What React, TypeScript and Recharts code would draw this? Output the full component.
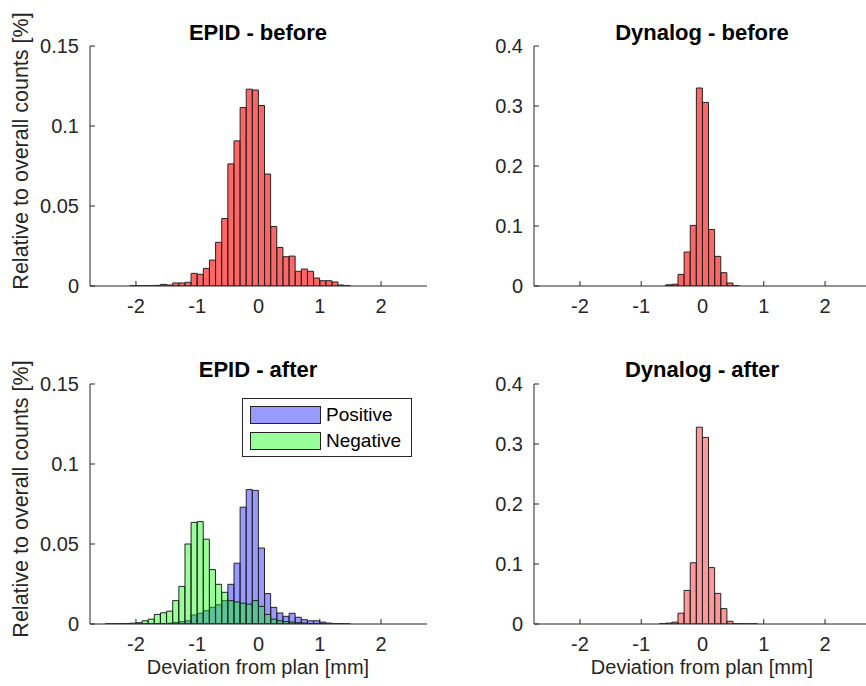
import React from "react";
import { BarChart, Bar, XAxis, YAxis } from "recharts";

// histogram bin centres [mm], bin width 0.1
const binCenters = [
  -2.45, -2.35, -2.25, -2.15, -2.05, -1.95, -1.85, -1.75, -1.65, -1.55,
  -1.45, -1.35, -1.25, -1.15, -1.05, -0.95, -0.85, -0.75, -0.65, -0.55,
  -0.45, -0.35, -0.25, -0.15, -0.05, 0.05, 0.15, 0.25, 0.35, 0.45,
  0.55, 0.65, 0.75, 0.85, 0.95, 1.05, 1.15, 1.25, 1.35, 1.45,
];

const epidBefore = [
  0, 0, 0, 0, 0.0001, 0.0001, 0.0001, 0.0002, 0.0004, 0.001,
  0.0006, 0.0019, 0.0019, 0.0023, 0.0079, 0.0073, 0.011, 0.0162, 0.0273, 0.0422,
  0.0763, 0.0907, 0.1115, 0.123, 0.1225, 0.1128, 0.07, 0.0372, 0.0241, 0.0183,
  0.0187, 0.0092, 0.0106, 0.0092, 0.005, 0.0033, 0.0033, 0.0025, 0.0006, 0.0002,
];

const epidAfterPositive = [
  0, 0, 0, 0, 0, 0.0001, 0.0002, 0.0002, 0.0003, 0.0003,
  0.0005, 0.001, 0.0015, 0.002, 0.0056, 0.0067, 0.0083, 0.0104, 0.012, 0.0146,
  0.0248, 0.038, 0.073, 0.084, 0.0835, 0.0475, 0.019, 0.0104, 0.0069, 0.0048,
  0.0067, 0.0042, 0.0027, 0.002, 0.002, 0.0012, 0.0006, 0.0002, 0.0002, 0.0001,
];

const epidAfterNegative = [
  0.0001, 0.0001, 0.0002, 0.0003, 0.0005, 0.0008, 0.002, 0.003, 0.006, 0.007,
  0.008, 0.0146, 0.0235, 0.05, 0.0635, 0.064, 0.053, 0.034, 0.0248, 0.0198,
  0.0146, 0.0138, 0.013, 0.0124, 0.0146, 0.011, 0.006, 0.003, 0.002, 0.0015,
  0.0012, 0.0008, 0.0006, 0.0003, 0.0002, 0.0001, 0, 0, 0, 0,
];

const dynalogBefore = [
  0, 0, 0, 0, 0, 0, 0, 0, 0, 0,
  0, 0, 0, 0, 0, 0, 0, 0, 0, 0.002,
  0.003, 0.0194, 0.0566, 0.101, 0.33, 0.306, 0.0943, 0.0494, 0.0222, 0.005,
  0.0005, 0, 0, 0, 0, 0, 0, 0, 0, 0,
];

const dynalogAfter = [
  0, 0, 0, 0, 0, 0, 0, 0, 0, 0,
  0, 0, 0, 0, 0, 0, 0, 0, 0.0005, 0.0015,
  0.003, 0.018, 0.056, 0.102, 0.328, 0.311, 0.094, 0.051, 0.0256, 0.0045,
  0.0004, 0.0003, 0.0002, 0.0002, 0, 0, 0, 0, 0, 0,
];

const xTicks = [-2, -1, 0, 1, 2];
const epidTicks = [0, 0.05, 0.1, 0.15];
const dynalogTicks = [0, 0.1, 0.2, 0.3, 0.4];

const FONT = '"Liberation Sans", Arial, Helvetica, sans-serif';
const AXIS = "#262626";
const EDGE = "#222";
const X_DOMAIN: [number, number] = [-2.75, 2.75];

const PLOT_W = 337;
const PLOT_H = 240;
const Y_AXIS_W = 60;
const PAD_TOP = 10;
const PAD_RIGHT = 10;
const X_AXIS_H = 40;

type Series = { key: string; values: number[]; fill: string; opacity: number };

function Panel({ plotLeft, plotTop, yMax, yTicks, series }: {
  plotLeft: number; plotTop: number; yMax: number; yTicks: number[]; series: Series[];
}) {
  const rows = binCenters.map((x, i) => {
    const r: Record<string, number> = { x };
    series.forEach((s) => (r[s.key] = s.values[i]));
    return r;
  });
  const tickStyle = { fill: AXIS, fontSize: 20, fontFamily: FONT };
  return (
    <div style={{ position: "absolute", left: plotLeft - Y_AXIS_W, top: plotTop - PAD_TOP }}>
      <BarChart
        width={Y_AXIS_W + PLOT_W + PAD_RIGHT}
        height={PAD_TOP + PLOT_H + X_AXIS_H}
        data={rows}
        margin={{ top: PAD_TOP, right: PAD_RIGHT, bottom: 0, left: 0 }}
        barCategoryGap={0}
        barGap={0}
      >
        <XAxis xAxisId="bottom" dataKey="x" type="number" domain={X_DOMAIN} ticks={xTicks}
          allowDataOverflow interval={0} height={X_AXIS_H} stroke={AXIS}
          tickSize={-5} tickMargin={18} tick={tickStyle} />
        <XAxis xAxisId="top" orientation="top" dataKey="x" type="number" domain={X_DOMAIN}
          ticks={xTicks} allowDataOverflow interval={0} height={0} stroke={AXIS}
          tickSize={-5} tick={false} />
        <XAxis xAxisId="overlay" dataKey="x" type="number" domain={X_DOMAIN} allowDataOverflow hide />
        <YAxis yAxisId="left" type="number" domain={[0, yMax]} ticks={yTicks} allowDataOverflow
          interval={0} width={Y_AXIS_W} stroke={AXIS} tickSize={-5} tickMargin={16} tick={tickStyle} />
        <YAxis yAxisId="right" orientation="right" type="number" domain={[0, yMax]} ticks={yTicks}
          allowDataOverflow interval={0} width={0} stroke={AXIS} tickSize={-5} tick={false} />
        {series.map((s, i) => (
          <Bar
            key={s.key}
            dataKey={s.key}
            xAxisId={i === 0 ? "bottom" : "overlay"}
            yAxisId="left"
            fill={s.fill}
            fillOpacity={s.opacity}
            stroke={EDGE}
            strokeWidth={1}
            isAnimationActive={false}
          />
        ))}
      </BarChart>
    </div>
  );
}

function Label({ x, y, text, bold, rotate, size = 20 }: {
  x: number; y: number; text: string; bold?: boolean; rotate?: boolean; size?: number;
}) {
  return (
    <div
      style={{
        position: "absolute",
        left: x,
        top: y,
        transform: `translate(-50%, -50%)${rotate ? " rotate(-90deg)" : ""}`,
        whiteSpace: "nowrap",
        fontFamily: FONT,
        fontSize: size,
        fontWeight: bold ? "bold" : "normal",
        color: bold ? "#000" : AXIS,
        lineHeight: 1,
      }}
    >
      {text}
    </div>
  );
}

function LegendItem({ top, fill, text }: { top: number; fill: string; text: string }) {
  return (
    <div style={{ position: "absolute", left: 7, top, display: "flex", alignItems: "center" }}>
      <div style={{ width: 71, height: 18, background: fill, border: `1px solid ${EDGE}`, boxSizing: "border-box" }} />
      <span style={{ marginLeft: 5, fontFamily: FONT, fontSize: 19, color: "#000", lineHeight: 1 }}>{text}</span>
    </div>
  );
}

export default function App() {
  const red = "#ff0000";
  return (
    <div style={{ position: "relative", width: 866, height: 686, overflow: "hidden", background: "#fff" }}>
      <style>{"body{margin:0;overflow:hidden}"}</style>

      <Panel plotLeft={89.5} plotTop={46} yMax={0.15} yTicks={epidTicks}
        series={[{ key: "v", values: epidBefore, fill: red, opacity: 0.6 }]} />
      <Panel plotLeft={534} plotTop={46} yMax={0.4} yTicks={dynalogTicks}
        series={[{ key: "v", values: dynalogBefore, fill: red, opacity: 0.6 }]} />
      <Panel plotLeft={89.5} plotTop={383.5} yMax={0.15} yTicks={epidTicks}
        series={[
          { key: "pos", values: epidAfterPositive, fill: "#0000ff", opacity: 0.4 },
          { key: "neg", values: epidAfterNegative, fill: "#00ff00", opacity: 0.4 },
        ]} />
      <Panel plotLeft={534} plotTop={383.5} yMax={0.4} yTicks={dynalogTicks}
        series={[{ key: "v", values: dynalogAfter, fill: red, opacity: 0.4 }]} />

      <Label x={258} y={33} text="EPID - before" bold size={22} />
      <Label x={702} y={33} text="Dynalog - before" bold size={22} />
      <Label x={258} y={370} text="EPID - after" bold size={22} />
      <Label x={702} y={370} text="Dynalog - after" bold size={22} />

      <Label x={22} y={151} text="Relative to overall counts [%]" rotate size={21.5} />
      <Label x={22} y={499} text="Relative to overall counts [%]" rotate size={21.5} />

      <Label x={258} y={667} text="Deviation from plan [mm]" />
      <Label x={702} y={667} text="Deviation from plan [mm]" />

      <div style={{ position: "absolute", left: 242, top: 398, width: 170, height: 59,
        border: `1px solid ${AXIS}`, background: "#fff", boxSizing: "border-box" }}>
        <LegendItem top={6} fill="rgb(153,153,255)" text="Positive" />
        <LegendItem top={32} fill="rgb(153,255,153)" text="Negative" />
      </div>
    </div>
  );
}
